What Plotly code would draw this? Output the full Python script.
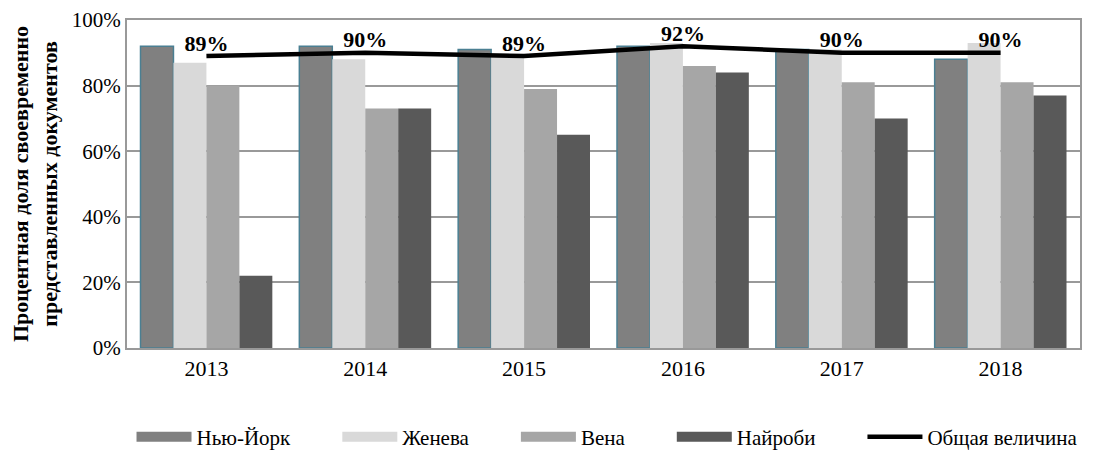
import plotly.graph_objects as go

years = ["2013", "2014", "2015", "2016", "2017", "2018"]
new_york = [92, 92, 91, 92, 91, 88]
geneva = [87, 88, 89, 93, 91, 93]
vienna = [80, 73, 79, 86, 81, 81]
nairobi = [22, 73, 65, 84, 70, 77]
total = [89, 90, 89, 92, 90, 90]

FONT = "Liberation Serif, DejaVu Serif, serif"
colors = {"Нью-Йорк": "#808080", "Женева": "#d9d9d9", "Вена": "#a6a6a6", "Найроби": "#595959"}
PAD = "\u00a0" * 8

fig = go.Figure()
fig.add_trace(go.Bar(x=years, y=new_york, name="Нью-Йорк", showlegend=False,
                     marker=dict(color=colors["Нью-Йорк"], line=dict(color="#4a7f92", width=1.5))))
fig.add_trace(go.Bar(x=years, y=geneva, name="Женева", showlegend=False,
                     marker=dict(color=colors["Женева"], line=dict(width=0))))
fig.add_trace(go.Bar(x=years, y=vienna, name="Вена", showlegend=False,
                     marker=dict(color=colors["Вена"], line=dict(width=0))))
fig.add_trace(go.Bar(x=years, y=nairobi, name="Найроби", showlegend=False,
                     marker=dict(color=colors["Найроби"], line=dict(width=0))))
fig.add_trace(go.Scatter(x=years, y=total, name="Общая величина", mode="lines+text",
                         showlegend=False,
                         line=dict(color="black", width=4.5),
                         text=[f"<b>{v}%</b>" for v in total], textposition="top center",
                         textfont=dict(family=FONT, size=22, color="black")))

# legend entries (wide rectangles like the original)
for name, col in colors.items():
    fig.add_trace(go.Scatter(x=[None], y=[None], mode="lines", name=name + PAD,
                             line=dict(color=col, width=13)))
fig.add_trace(go.Scatter(x=[None], y=[None], mode="lines", name="Общая величина",
                         line=dict(color="black", width=4.5)))

fig.update_layout(
    width=1096, height=456,
    margin=dict(l=119, r=24, t=12, b=116),
    paper_bgcolor="white", plot_bgcolor="white",
    font=dict(family=FONT, size=21, color="black"),
    barmode="group", bargap=0.17, bargroupgap=0,
    showlegend=True,
    legend=dict(orientation="h", xref="container", yref="container",
                x=0.547, xanchor="center", y=0.059, yanchor="middle",
                font=dict(family=FONT, size=21), itemwidth=55, traceorder="normal"),
)
fig.update_xaxes(showline=True, linecolor="#999999", linewidth=2, mirror=True,
                 ticks="", tickfont=dict(size=22), automargin=False)
fig.update_yaxes(range=[0, 100], dtick=20, ticksuffix="%", showgrid=True,
                 gridcolor="#999999", gridwidth=1.5, showline=True, linecolor="#999999",
                 linewidth=2, mirror=True, zeroline=False, tickfont=dict(size=21),
                 automargin=False,
                 title=dict(text="<b>Процентная доля своевременно<br>представленных документов</b>",
                            font=dict(family=FONT, size=22), standoff=14))

fig.write_html("out.html")
